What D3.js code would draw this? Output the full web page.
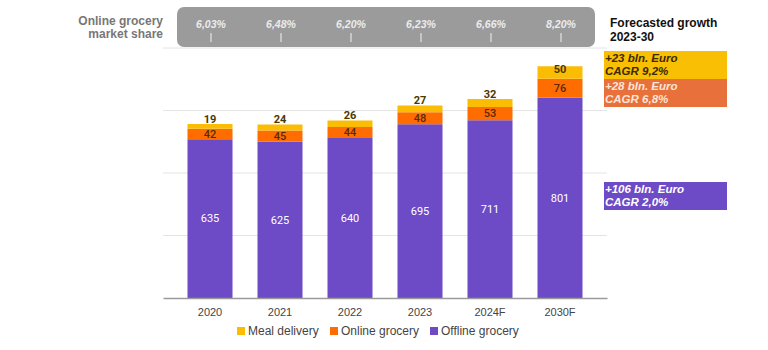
<!DOCTYPE html>
<html><head><meta charset="utf-8">
<script src="https://cdn.jsdelivr.net/npm/d3@7"></script>
<style>body{margin:0;background:#fff}svg{display:block}</style>
</head><body><svg id="c" width="768" height="350"></svg>
<script>
const categories = ["2020","2021","2022","2023","2024F","2030F"];
const offline = [635,625,640,695,711,801];
const online = [42,45,44,48,53,76];
const meal = [19,24,26,27,32,50];
const shares = ["6,03%","6,48%","6,20%","6,23%","6,66%","8,20%"];
const yTicks = [0,250,500,750,1000];
const seriesNames = ["Meal delivery","Online grocery","Offline grocery"];
const colors = {"Offline grocery":"#6d4ac6","Online grocery":"#ff6d01","Meal delivery":"#fbbc04"};
const growth = [
  {lines:["+23 bln. Euro","CAGR 9,2%"], fill:"#f9bf04", text:"#3a2a00", top:51, h:28},
  {lines:["+28 bln. Euro","CAGR 6,8%"], fill:"#e8703a", text:"#fbe6d8", top:79, h:28},
  {lines:["+106 bln. Euro","CAGR 2,0%"], fill:"#6d4ac6", text:"#ffffff", top:182, h:28}
];

const svg = d3.select("#c");
const x = d3.scaleBand().domain(categories).range([163,607]).paddingInner(0.357).paddingOuter(0.35);
const y = d3.scaleLinear().domain([0,1000]).range([298,48]);

// gridlines
svg.append("g").selectAll("line").data(yTicks.slice(1)).join("line")
  .attr("x1",163).attr("x2",607).attr("y1",d=>y(d)).attr("y2",d=>y(d))
  .attr("stroke","#e4e4e4").attr("stroke-width",1);

// stacked data
const rows = categories.map((c,i)=>({cat:c,"Offline grocery":offline[i],"Online grocery":online[i],"Meal delivery":meal[i]}));
const stack = d3.stack().keys(["Offline grocery","Online grocery","Meal delivery"])(rows);
const g = svg.append("g");
stack.forEach(layer=>{
  g.append("g").selectAll("rect").data(layer).join("rect")
    .attr("x",d=>x(d.data.cat)).attr("width",x.bandwidth())
    .attr("y",d=>y(d[1])).attr("height",d=>y(d[0])-y(d[1]))
    .attr("fill",colors[layer.key]);
});
// labels
const font = "Roboto, Arial, sans-serif";
const offL = stack[0], onL = stack[1], mealL = stack[2];
g.append("g").selectAll("text").data(offL).join("text")
  .attr("x",d=>x(d.data.cat)+x.bandwidth()/2).attr("y",d=>(y(d[0])+y(d[1]))/2)
  .attr("dy","0.35em").attr("text-anchor","middle").attr("font-family",font)
  .attr("font-size",11).attr("fill","#fff").text(d=>d.data["Offline grocery"]);
g.append("g").selectAll("text").data(onL).join("text")
  .attr("x",d=>x(d.data.cat)+x.bandwidth()/2).attr("y",d=>(y(d[0])+y(d[1]))/2)
  .attr("dy","0.35em").attr("text-anchor","middle").attr("font-family",font)
  .attr("font-size",11).attr("font-weight",500).attr("fill","#5a2a08").text(d=>d.data["Online grocery"]);
g.append("g").selectAll("text").data(mealL).join("text")
  .attr("x",d=>x(d.data.cat)+x.bandwidth()/2)
  .attr("y",d=>{const t=y(d[1]),b=y(d[0]);return (b-t)>=12?(t+b)/2-3:t-5;})
  .attr("dy","0.35em").attr("text-anchor","middle").attr("font-family",font)
  .attr("font-size",11).attr("font-weight","bold").attr("fill","#4a3800").text(d=>d.data["Meal delivery"]);

// x axis
const xa = svg.append("g").attr("transform","translate(0,298)").call(d3.axisBottom(x).tickSize(0).tickPadding(10));
xa.select(".domain").attr("stroke","#9a9a9a").attr("stroke-width",1.5);
xa.selectAll("text").attr("font-family","Arial, 'Liberation Sans', sans-serif").attr("font-size",11).attr("fill","#444");

// share box
svg.append("rect").attr("x",177).attr("y",7).attr("width",418).attr("height",40).attr("rx",7).attr("fill","#9b9b9b");
const sg = svg.append("g").selectAll("g").data(categories).join("g")
  .attr("transform",(d)=>`translate(${x(d)+x.bandwidth()/2+1},0)`);
sg.append("text").attr("y",28).attr("text-anchor","middle").attr("font-family","Arial, 'Liberation Sans', sans-serif")
  .attr("font-size",10.5).attr("font-style","italic").attr("font-weight","bold").attr("fill","#ececec").text((d,i)=>shares[i]);
sg.append("line").attr("y1",33).attr("y2",42).attr("stroke","#f2f2f2").attr("stroke-width",1);

svg.append("text").attr("x",163).attr("y",25).attr("text-anchor","end").attr("font-family","Arial, 'Liberation Sans', sans-serif")
  .attr("font-size",12).attr("font-weight","bold").attr("fill","#777").text("Online grocery");
svg.append("text").attr("x",163).attr("y",38).attr("text-anchor","end").attr("font-family","Arial, 'Liberation Sans', sans-serif")
  .attr("font-size",12).attr("font-weight","bold").attr("fill","#777").text("market share");

// forecast annotations
svg.append("text").attr("x",610).attr("y",27).attr("font-family","Arial, 'Liberation Sans', sans-serif")
  .attr("font-size",12).attr("font-weight","bold").attr("fill","#111").text("Forecasted growth");
svg.append("text").attr("x",610).attr("y",41).attr("font-family","Arial, 'Liberation Sans', sans-serif")
  .attr("font-size",12).attr("font-weight","bold").attr("fill","#111").text("2023-30");
const ag = svg.append("g").selectAll("g").data(growth).join("g");
ag.append("rect").attr("x",604).attr("y",d=>d.top).attr("width",123).attr("height",d=>d.h).attr("fill",d=>d.fill);
ag.each(function(d){
  const s=d3.select(this);
  d.lines.forEach((l,i)=>{
    s.append("text").attr("x",605).attr("y",d.top+11+i*13).attr("font-family","Arial, 'Liberation Sans', sans-serif")
      .attr("font-size",11.5).attr("font-weight","bold").attr("font-style","italic").attr("fill",d.text).text(l);
  });
});

// legend
const legX = [237,330,430];
const lg = svg.append("g").selectAll("g").data(seriesNames).join("g")
  .attr("transform",(d,i)=>`translate(${legX[i]},331)`);
lg.append("rect").attr("x",0).attr("y",-4).attr("width",8).attr("height",8).attr("fill",d=>colors[d]);
lg.append("text").attr("x",11).attr("y",0).attr("dy","0.35em").attr("font-family","Arial, 'Liberation Sans', sans-serif")
  .attr("font-size",12).attr("fill","#444").text(d=>d);
</script></body></html>
